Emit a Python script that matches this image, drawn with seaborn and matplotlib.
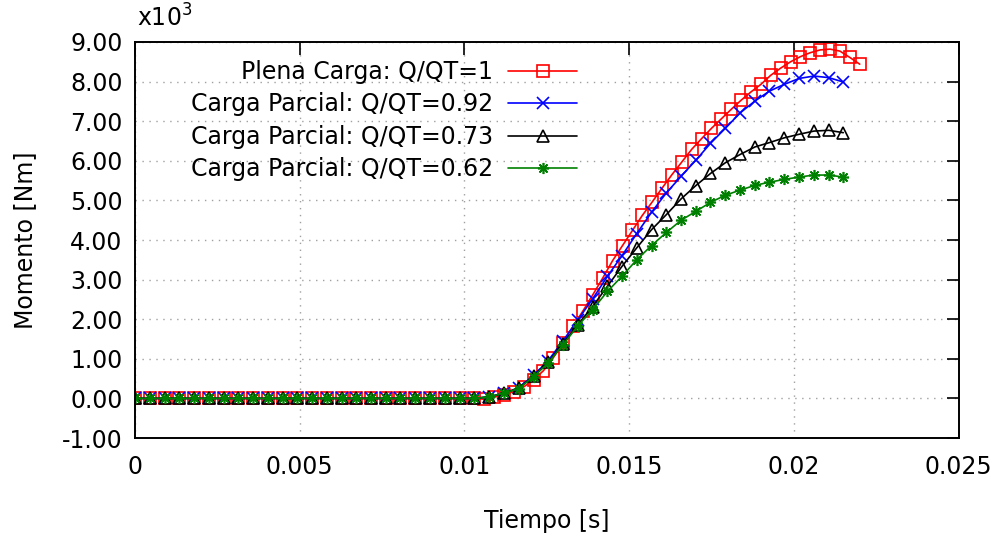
import matplotlib
matplotlib.use('Agg')
import matplotlib.pyplot as plt
from matplotlib.ticker import FuncFormatter, MultipleLocator
import seaborn as sns

# time steps of the three partial-load runs [s]
t_parcial = [0.0, 0.00045, 0.0009, 0.00134, 0.00179, 0.00224, 0.00269, 0.00314,
             0.00358, 0.00403, 0.00448, 0.00493, 0.00538, 0.00582, 0.00627, 0.00672,
             0.00717, 0.00762, 0.00806, 0.00851, 0.00896, 0.00941, 0.00986, 0.0103,
             0.01075, 0.0112, 0.01165, 0.0121, 0.01254, 0.01299, 0.01344, 0.01389,
             0.01434, 0.01478, 0.01523, 0.01568, 0.01613, 0.01658, 0.01702, 0.01747,
             0.01792, 0.01837, 0.01882, 0.01926, 0.01971, 0.02016, 0.02061, 0.02106,
             0.0215]

# full load run has a finer step during the rise
t_plena = [0.0, 0.00045, 0.0009, 0.00134, 0.00179, 0.00224, 0.00269, 0.00314,
           0.00358, 0.00403, 0.00448, 0.00493, 0.00538, 0.00582, 0.00627, 0.00672,
           0.00717, 0.00762, 0.00806, 0.00851, 0.00896, 0.00941, 0.00986, 0.0103,
           0.0106, 0.0109, 0.0112, 0.0115, 0.0118, 0.0121, 0.0124, 0.0127, 0.0130,
           0.0133, 0.0136, 0.0139, 0.0142, 0.0145, 0.0148, 0.0151, 0.0154, 0.0157,
           0.0160, 0.0163, 0.0166, 0.0169, 0.0172, 0.0175, 0.0178, 0.0181, 0.0184,
           0.0187, 0.0190, 0.0193, 0.0196, 0.0199, 0.0202, 0.0205, 0.0208, 0.0211,
           0.0214, 0.0217, 0.0220]

# torque in thousands of Nm
m_plena = [0.0, 0.0, 0.0, 0.0, 0.0, 0.0, 0.0, 0.0, 0.0, 0.0, 0.0, 0.0,
           0.0, 0.0, 0.0, 0.0, 0.0, 0.0, 0.0, 0.0, 0.0, 0.0, 0.0, 0.0,
           -0.02, 0.03, 0.09, 0.17, 0.29, 0.47, 0.70, 1.03, 1.41,
           1.82, 2.21, 2.62, 3.04, 3.48, 3.86, 4.24, 4.62, 4.96,
           5.31, 5.65, 5.97, 6.29, 6.56, 6.82, 7.06, 7.30, 7.53,
           7.74, 7.93, 8.16, 8.34, 8.50, 8.63, 8.73, 8.80, 8.82,
           8.77, 8.61, 8.44]

m_092 = [0.0, 0.0, 0.0, 0.0, 0.0, 0.0, 0.0, 0.0, 0.0, 0.0, 0.0, 0.0,
         0.0, 0.0, 0.0, 0.0, 0.0, 0.0, 0.0, 0.0, 0.0, 0.0, 0.0, 0.0,
         0.04, 0.13, 0.27, 0.58, 0.95, 1.45, 1.98, 2.51, 3.08, 3.60, 4.16, 4.70,
         5.19, 5.61, 6.01, 6.44, 6.82, 7.21, 7.51, 7.76, 7.93, 8.08, 8.14, 8.10,
         7.99]

m_073 = [0.0, 0.0, 0.0, 0.0, 0.0, 0.0, 0.0, 0.0, 0.0, 0.0, 0.0, 0.0,
         0.0, 0.0, 0.0, 0.0, 0.0, 0.0, 0.0, 0.0, 0.0, 0.0, 0.0, 0.0,
         0.04, 0.13, 0.26, 0.56, 0.91, 1.38, 1.86, 2.32, 2.83, 3.33, 3.80, 4.26,
         4.64, 5.04, 5.37, 5.68, 5.95, 6.16, 6.35, 6.46, 6.58, 6.67, 6.75, 6.77,
         6.71]

m_062 = [0.0, 0.0, 0.0, 0.0, 0.0, 0.0, 0.0, 0.0, 0.0, 0.0, 0.0, 0.0,
         0.0, 0.0, 0.0, 0.0, 0.0, 0.0, 0.0, 0.0, 0.0, 0.0, 0.0, 0.0,
         0.04, 0.13, 0.25, 0.55, 0.89, 1.35, 1.83, 2.24, 2.70, 3.08, 3.50, 3.86,
         4.19, 4.50, 4.72, 4.95, 5.13, 5.26, 5.38, 5.46, 5.53, 5.59, 5.64, 5.64,
         5.59]

labels = ['Plena Carga: Q/QT=1', 'Carga Parcial: Q/QT=0.92',
          'Carga Parcial: Q/QT=0.73', 'Carga Parcial: Q/QT=0.62']

sns.set_style('white')
plt.rcParams['font.family'] = ['DejaVu Sans']
plt.rcParams['mathtext.fontset'] = 'dejavusans'
plt.rcParams['text.color'] = 'black'
plt.rcParams['axes.labelcolor'] = 'black'
fs = 17

fig = plt.figure(figsize=(9.96, 5.35), dpi=100)
ax = fig.add_axes([0.1355, 0.1813, 0.8269, 0.7402])

common = dict(linewidth=1.2, markersize=8, markeredgewidth=1.2, sort=False)
sns.lineplot(x=t_plena, y=m_plena, ax=ax, color='#ff0000', marker='s',
             markerfacecolor='none', markeredgecolor='#ff0000', label=labels[0], **common)
sns.lineplot(x=t_parcial, y=m_092, ax=ax, color='#0000ff', marker='x',
             markeredgecolor='#0000ff', label=labels[1], **common)
sns.lineplot(x=t_parcial, y=m_073, ax=ax, color='black', marker='^',
             markerfacecolor='none', markeredgecolor='black', label=labels[2], **common)
sns.lineplot(x=t_parcial, y=m_062, ax=ax, color='#008000', marker=(8, 2, 0),
             markeredgecolor='#008000', label=labels[3], **common)

ax.set_xlim(0, 0.025)
ax.set_ylim(-1, 9)
ax.xaxis.set_major_locator(MultipleLocator(0.005))
ax.yaxis.set_major_locator(MultipleLocator(1))
ax.xaxis.set_major_formatter(FuncFormatter(lambda v, p: '%g' % round(v, 6)))
ax.yaxis.set_major_formatter(FuncFormatter(lambda v, p: '%.2f' % v))

ax.grid(True, color='#a0a0a0', linestyle=(0, (1, 4)), linewidth=1)
ax.tick_params(direction='in', length=9, width=1.2, top=True, right=True,
               labelsize=fs, colors='black')
ax.tick_params(axis='x', pad=12)
ax.tick_params(axis='y', pad=9)
for s in ax.spines.values():
    s.set_linewidth(1.4)
    s.set_color('black')

ax.set_xlabel('Tiempo [s]', fontsize=fs, labelpad=22)
ax.set_ylabel('Momento [Nm]', fontsize=fs, labelpad=18)
ax.text(0.002, 1.038, r'x10$^3$', transform=ax.transAxes, fontsize=fs,
        ha='left', va='baseline')

ax.legend(loc='upper right', bbox_to_anchor=(0.537, 0.955), frameon=False,
          markerfirst=False, fontsize=fs, handlelength=2.92, handletextpad=0.64,
          labelspacing=0.36, borderpad=0, borderaxespad=0, numpoints=1)

fig.savefig('out.png', dpi=100)
